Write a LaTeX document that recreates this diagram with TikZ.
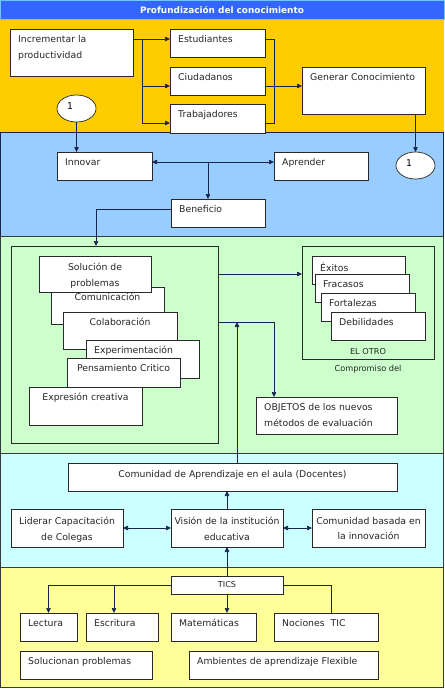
\documentclass[tikz,border=0pt]{standalone}
\usepackage{fontspec}
\setmainfont{DejaVu Sans}
\usetikzlibrary{arrows.meta,shapes.geometric}
\definecolor{titleblue}{RGB}{51,102,255}
\definecolor{titleedge}{RGB}{110,200,255}
\definecolor{orangeband}{RGB}{255,204,0}
\definecolor{blueband}{RGB}{153,204,255}
\definecolor{greenband}{RGB}{204,255,204}
\definecolor{cyanband}{RGB}{204,255,255}
\definecolor{yellowband}{RGB}{255,255,153}
\definecolor{navyline}{RGB}{25,35,80}
\definecolor{bandline}{RGB}{50,60,60}
\definecolor{boxline}{RGB}{40,40,40}
\newcommand{\lbl}{\fontsize{9.3}{15.5}\selectfont}
\newcommand{\smallLbl}{\fontsize{8.2}{10}\selectfont}
\tikzset{
  boxst/.style={draw=boxline, fill=white, line width=0.7pt, inner sep=0pt, outer sep=0pt, anchor=north west},
  framest/.style={draw=boxline, line width=0.7pt, inner sep=0pt, outer sep=0pt, anchor=north west},
  txt/.style={inner sep=0pt, font=\lbl, align=left, anchor=north west, text=black!85},
  ctxt/.style={inner sep=0pt, font=\lbl, align=center, anchor=north, text=black!85},
  conn/.style={draw=navyline, line width=0.7pt},
  arr/.style={conn, -{Triangle[length=5pt,width=4.5pt]}},
  darr/.style={conn, {Triangle[length=5pt,width=4.5pt]}-{Triangle[length=5pt,width=4.5pt]}},
  oval/.style={ellipse, draw=boxline, fill=white, line width=0.7pt, minimum width=39pt, minimum height=27pt, inner sep=0pt, outer sep=0pt}
}
% name, x, y, w, h, text
\newcommand{\LB}[6]{%
  \node[boxst, minimum width=#4pt, minimum height=#5pt] (#1) at (#2,#3) {};
  \node[txt] (#1t) at ([xshift=8pt,yshift=-6.3pt]#1.north west) {\rule{0pt}{7pt}#6};
}
% name, x, y, w, h, yshift, text
\newcommand{\CB}[7]{%
  \node[boxst, minimum width=#4pt, minimum height=#5pt] (#1) at (#2,#3) {};
  \node[ctxt] (#1t) at ([yshift=-#6pt]#1.north) {\rule{0pt}{7pt}#7};
}
\begin{document}
\begin{tikzpicture}[x=1pt,y=-1pt]
\useasboundingbox (0,0) rectangle (445,689);
\fill[white] (0,0) rectangle (445,689);
% bands
\fill[orangeband] (0,19) rectangle (444,132);
\draw[navyline, fill=blueband, line width=0.8pt] (0.5,132) rectangle (443.5,236);
\draw[bandline, fill=greenband, line width=0.8pt] (0.5,236) rectangle (443.5,453);
\draw[bandline, fill=cyanband, line width=0.8pt] (0.5,453) rectangle (443.5,567);
\draw[bandline, fill=yellowband, line width=0.8pt] (0.5,567) rectangle (443.5,687.5);
\draw[titleedge, fill=titleblue, line width=0.8pt] (0.5,0.5) rectangle (444.5,19);
\node[font=\fontsize{8.9}{10}\selectfont\bfseries, text=white, inner sep=0pt] (title) at (222,10) {Profundización del conocimiento};

% ---- orange band
\LB{inc}{10}{29}{123}{47}{Incrementar la\\productividad}
\LB{est}{170}{29}{95}{28}{Estudiantes}
\LB{ciu}{170}{67}{95}{28}{Ciudadanos}
\LB{tra}{170}{104}{95}{29}{Trabajadores}
\LB{gen}{302}{67}{123}{47}{Generar Conocimiento}
\node[oval] (ov1) at (76.5,108.5) {};
\node[font=\lbl, inner sep=0pt] (ov1t) at (70,106) {1};

\coordinate (j1) at (142,39);
\coordinate (j2a) at (274,39);
\coordinate (j2b) at (274,123);
\draw[arr] ([yshift=-10pt]inc.north east) -- ([yshift=-10pt]est.north west);
\draw[arr] (j1) |- ([yshift=-19pt]ciu.north west);
\draw[arr] (j1) |- ([yshift=-19pt]tra.north west);
\draw[conn] ([yshift=-10pt]est.north east) -- (j2a) -- (j2b) -- ([yshift=-19pt]tra.north east);
\draw[arr] ([yshift=-19pt]ciu.north east) -- ([yshift=-19pt]gen.north west);

% ---- blue band
\LB{inn}{57}{152}{95}{28}{Innovar}
\LB{apr}{274}{152}{94}{28}{Aprender}
\LB{ben}{171}{199}{94}{28}{Beneficio}
\node[oval] (ov2) at (415.5,165.5) {};
\node[font=\lbl, inner sep=0pt] (ov2t) at (409,163) {1};

\draw[arr] (ov1.south) -- (ov1.south |- inn.north);
\draw[arr] (gen.south -| ov2.north) -- (ov2.north);
\draw[darr] ([yshift=-10pt]inn.north east) -- ([yshift=-10pt]apr.north west);
\coordinate (j3) at (208,162);
\draw[arr] (j3) -- (j3 |- ben.north);

% ---- green band
\node[framest, minimum width=207pt, minimum height=197pt] (inner) at (11,246) {};
\node[framest, minimum width=132pt, minimum height=113pt] (otro) at (302,246) {};
\coordinate (j4) at (96,209);
\draw[arr] ([yshift=-10pt]ben.north west) -- (j4) -- (j4 |- inner.north);

\CB{comu}{51}{287}{113}{37}{6.3}{Comunicación}
\CB{sol}{39}{256}{112}{36}{7}{Solución de\\problemas}
\CB{cola}{63}{312}{114}{37}{6.3}{Colaboración}
\LB{expe}{86}{340}{113}{38}{Experimentación}
\CB{pens}{67}{358}{113}{29}{6.3}{Pensamiento Critico}
\CB{expr}{29}{387}{113}{38}{6.3}{Expresión creativa}

\LB{exi}{312}{256}{93}{28}{Éxitos}
\LB{fra}{315}{274}{94}{28}{Fracasos}
\LB{fort}{321}{293}{94}{28}{Fortalezas}
\LB{deb}{331}{312}{94}{28}{Debilidades}
\node[font=\smallLbl, inner sep=0pt, text=black!85] (otrot) at (368,352) {EL OTRO};
\node[font=\smallLbl, inner sep=0pt, text=black!85] (compt) at (368,369) {Compromiso del};

\LB{obj}{256}{397}{141}{37}{OBJETOS de los nuevos\\métodos de evaluación}

\draw[arr] ([yshift=-28pt]inner.north east) -- ([yshift=-28pt]otro.north west);
\coordinate (j5) at (274,322);
\coordinate (j6) at (237,322);
\draw[arr] ([yshift=-76pt]inner.north east) -- (j5) -- (j5 |- obj.north);

% ---- cyan band
\CB{com}{68}{463}{329}{28}{7.3}{Comunidad de Aprendizaje en el aula (Docentes)}
\CB{lid}{11}{509}{112}{38}{8}{Liderar Capacitación\\de Colegas}
\CB{vis}{171}{509}{112}{38}{8}{Visión de la institución\\educativa}
\CB{cbi}{312}{509}{113}{38}{8}{Comunidad basada en\\la innovación}
\draw[arr] (com.north -| j6) -- (j6);
\draw[arr] (vis.north) -- (vis.north |- com.south);
\draw[darr] (lid.east) -- (vis.west);
\draw[darr] (vis.east) -- (cbi.west);

% ---- yellow band
\node[boxst, minimum width=112pt, minimum height=18pt] (tics) at (171,576) {};
\node[font=\smallLbl, inner sep=0pt, text=black!85] (ticst) at (tics.center) {TICS};
\LB{lec}{20}{613}{57}{28}{Lectura}
\LB{esc}{86}{613}{72}{28}{Escritura}
\LB{mat}{171}{613}{85}{28}{Matemáticas}
\LB{noc}{274}{613}{104}{28}{Nociones\ \ TIC}
\LB{solu}{20}{651}{132}{28}{Solucionan problemas}
\LB{amb}{189}{651}{189}{28}{Ambientes de aprendizaje Flexible}

\draw[arr] (tics.north) -- (tics.north |- vis.south);
\coordinate (j7) at (114,585);
\coordinate (j8) at (331,585);
\draw[arr] (tics.west) -| (lec.north);
\draw[arr] (j7) -- (j7 |- esc.north);
\draw[arr] (tics.south) -- (tics.south |- mat.north);
\draw[conn] (tics.east) -- (j8) -- (j8 |- noc.north);
\end{tikzpicture}
\end{document}
